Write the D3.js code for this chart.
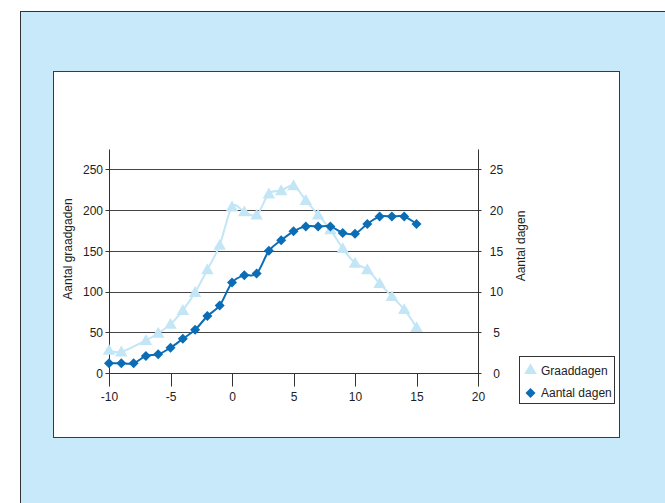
<!DOCTYPE html>
<html>
<head>
<meta charset="utf-8">
<script src="https://cdn.jsdelivr.net/npm/d3@7"></script>
<style>
  html, body { margin: 0; padding: 0; background: #ffffff; }
  svg { display: block; font-family: "Liberation Sans", Arial, Helvetica, sans-serif; }
</style>
</head>
<body>
<svg id="chart" width="665" height="503"></svg>
<script>
// Buitentemperatuur (°C) per meetpunt
const temperatures = [-10, -9, -8, -7, -6, -5, -4, -3, -2, -1, 0, 1, 2, 3, 4, 5, 6, 7, 8, 9, 10, 11, 12, 13, 14, 15];
// Aantal graaddagen (linker as); geen waarde bij -8
const graaddagen = [28, 26, null, 40, 49, 60, 77, 99, 127, 157, 204, 198, 194, 220, 224, 230, 212, 194, 176, 153, 135, 127, 110, 94, 78, 56];
// Aantal dagen (rechter as)
const aantalDagen = [1.2, 1.2, 1.2, 2.1, 2.3, 3.1, 4.2, 5.3, 7.0, 8.3, 11.1, 12.0, 12.2, 15.0, 16.3, 17.4, 18.0, 18.0, 18.0, 17.2, 17.1, 18.3, 19.2, 19.2, 19.2, 18.3];

const xTicks = [-10, -5, 0, 5, 10, 15, 20];
const leftTicks = [0, 50, 100, 150, 200, 250];
const rightTicks = [0, 5, 10, 15, 20, 25];
const seriesNames = ["Graaddagen", "Aantal dagen"];

const lightBlue = "#c3e6f7";
const darkBlue = "#0a6db6";
const panelBlue = "#c7e9f9";
const textColor = "#222";

const svg = d3.select("#chart");

// Blue outer panel and white chart area
svg.append("rect").attr("x", 20.5).attr("y", 11.5).attr("width", 700).attr("height", 600)
  .attr("fill", panelBlue).attr("stroke", "#333").attr("stroke-width", 1);
svg.append("rect").attr("x", 53.5).attr("y", 71.5).attr("width", 566).attr("height", 366)
  .attr("fill", "#fff").attr("stroke", "#3a3a3a").attr("stroke-width", 1);

const x = d3.scaleLinear().domain([-10, 20]).range([109, 478]);
const yL = d3.scaleLinear().domain([0, 275]).range([373, 149]);
const yR = d3.scaleLinear().domain([0, 27.5]).range([373, 149]);
const crisp = v => Math.round(v) + 0.5;

// Gridlines
svg.append("g").selectAll("line").data(leftTicks.filter(d => d > 0)).join("line")
  .attr("x1", crisp(x(-10))).attr("x2", crisp(x(20)))
  .attr("y1", d => crisp(yL(d))).attr("y2", d => crisp(yL(d)))
  .attr("stroke", "#444").attr("stroke-width", 1);

// Axis lines
const axisG = svg.append("g").attr("stroke", "#333").attr("stroke-width", 1);
axisG.append("line").attr("x1", crisp(x(-10))).attr("x2", crisp(x(20)))
  .attr("y1", crisp(yL(0))).attr("y2", crisp(yL(0)));
axisG.append("line").attr("x1", crisp(x(-10))).attr("x2", crisp(x(-10)))
  .attr("y1", crisp(yL(275))).attr("y2", crisp(yL(0)));
axisG.append("line").attr("x1", crisp(x(20))).attr("x2", crisp(x(20)))
  .attr("y1", crisp(yL(275))).attr("y2", crisp(yL(0)));

// X ticks and labels
axisG.selectAll(".xt").data(xTicks).join("line").attr("class", "xt")
  .attr("x1", d => crisp(x(d))).attr("x2", d => crisp(x(d)))
  .attr("y1", crisp(yL(0))).attr("y2", crisp(yL(0)) + 13);
svg.append("g").selectAll("text").data(xTicks).join("text")
  .attr("x", d => x(d) + 0.5).attr("y", 401)
  .attr("text-anchor", "middle").attr("font-size", 12).attr("fill", textColor)
  .text(d => d);

// Left ticks and labels
axisG.selectAll(".lt").data(leftTicks).join("line").attr("class", "lt")
  .attr("x1", crisp(x(-10)) - 4).attr("x2", crisp(x(-10)))
  .attr("y1", d => crisp(yL(d))).attr("y2", d => crisp(yL(d)));
svg.append("g").selectAll("text").data(leftTicks).join("text")
  .attr("x", 103).attr("y", d => yL(d) + 4.8)
  .attr("text-anchor", "end").attr("font-size", 12).attr("fill", textColor)
  .text(d => d);

// Right ticks and labels
axisG.selectAll(".rt").data(rightTicks).join("line").attr("class", "rt")
  .attr("x1", crisp(x(20)) - 1).attr("x2", crisp(x(20)) + 3)
  .attr("y1", d => crisp(yR(d))).attr("y2", d => crisp(yR(d)));
svg.append("g").selectAll("text").data(rightTicks).join("text")
  .attr("x", 496.5).attr("y", d => yR(d) + 4.8)
  .attr("text-anchor", "middle").attr("font-size", 12).attr("fill", textColor)
  .text(d => d);

// Axis titles
svg.append("text").attr("transform", "translate(68,249) rotate(-90)")
  .attr("text-anchor", "middle").attr("dominant-baseline", "central")
  .attr("font-size", 12).attr("fill", textColor).text("Aantal graadgaden");
svg.append("text").attr("transform", "translate(521,246) rotate(-90)")
  .attr("text-anchor", "middle").attr("dominant-baseline", "central")
  .attr("font-size", 12).attr("fill", textColor).text("Aantal dagen");

// Series (smoothed lines with markers)
const gdPoints = temperatures.map((t, i) => ({ t, v: graaddagen[i] })).filter(d => d.v !== null);
const adPoints = temperatures.map((t, i) => ({ t, v: aantalDagen[i] }));

const triangle = d3.symbol().type(d3.symbolTriangle).size(68);
const diamond = d3.symbol().type(d3.symbolSquare).size(50);
const smooth = d3.curveCatmullRom.alpha(0);

svg.append("path").datum(gdPoints)
  .attr("fill", "none").attr("stroke", lightBlue).attr("stroke-width", 2)
  .attr("d", d3.line().x(d => x(d.t)).y(d => yL(d.v)).curve(smooth));
svg.append("g").selectAll("path").data(gdPoints).join("path")
  .attr("transform", d => `translate(${x(d.t)},${yL(d.v) + 1})`)
  .attr("d", triangle).attr("fill", lightBlue);

svg.append("path").datum(adPoints)
  .attr("fill", "none").attr("stroke", darkBlue).attr("stroke-width", 2)
  .attr("d", d3.line().x(d => x(d.t)).y(d => yR(d.v)).curve(smooth));
svg.append("g").selectAll("path").data(adPoints).join("path")
  .attr("transform", d => `translate(${x(d.t)},${yR(d.v)}) rotate(45)`)
  .attr("d", diamond).attr("fill", darkBlue);

// Legend
const legend = svg.append("g");
legend.append("rect").attr("x", 519.5).attr("y", 356.5).attr("width", 95).attr("height", 47)
  .attr("fill", "#fff").attr("stroke", "#333").attr("stroke-width", 1);
legend.append("path").attr("transform", "translate(530.5,370.5)").attr("d", triangle).attr("fill", lightBlue);
legend.append("path").attr("transform", "translate(530.5,393) rotate(45)").attr("d", diamond).attr("fill", darkBlue);
legend.selectAll("text").data(seriesNames).join("text")
  .attr("x", 541).attr("y", (d, i) => 374.5 + i * 22.7)
  .attr("font-size", 12).attr("fill", textColor).text(d => d);
</script>
</body>
</html>
